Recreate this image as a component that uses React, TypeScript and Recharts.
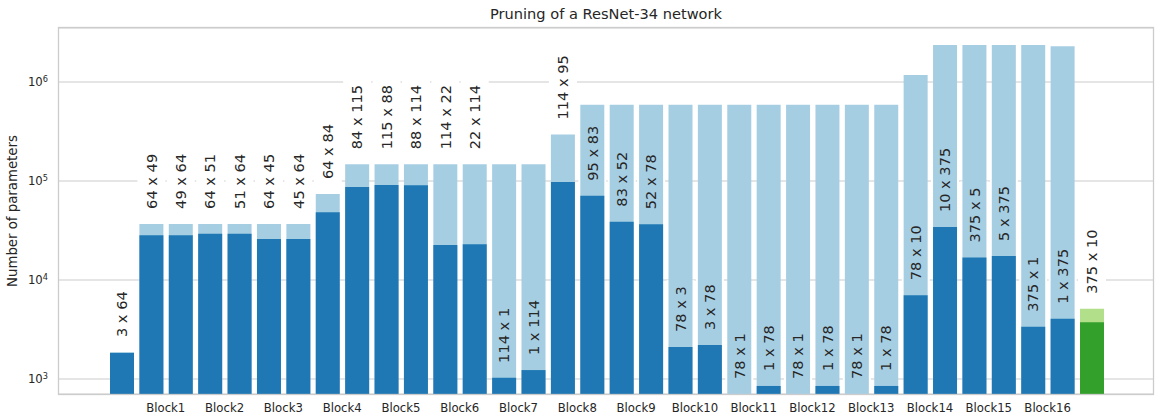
import { BarChart, Bar, XAxis, YAxis, CartesianGrid, Cell } from 'recharts';

// one entry per conv / fc layer, in network order
const layers = [
  'conv1',
  'Block1', 'Block1', 'Block2', 'Block2', 'Block3', 'Block3', 'Block4', 'Block4',
  'Block5', 'Block5', 'Block6', 'Block6', 'Block7', 'Block7', 'Block8', 'Block8',
  'Block9', 'Block9', 'Block10', 'Block10', 'Block11', 'Block11', 'Block12', 'Block12',
  'Block13', 'Block13', 'Block14', 'Block14', 'Block15', 'Block15', 'Block16', 'Block16',
  'fc',
];

// remaining in x out channels after pruning
const shapes = [
  '3 x 64',
  '64 x 49', '49 x 64', '64 x 51', '51 x 64', '64 x 45', '45 x 64', '64 x 84', '84 x 115',
  '115 x 88', '88 x 114', '114 x 22', '22 x 114', '114 x 1', '1 x 114', '114 x 95', '95 x 83',
  '83 x 52', '52 x 78', '78 x 3', '3 x 78', '78 x 1', '1 x 78', '78 x 1', '1 x 78',
  '78 x 1', '1 x 78', '78 x 10', '10 x 375', '375 x 5', '5 x 375', '375 x 1', '1 x 375',
  '375 x 10',
];

// parameters of the original layer
const fullParams = [
  1870,
  36864, 36864, 36864, 36864, 36864, 36864, 73728, 147456,
  147456, 147456, 147456, 147456, 147456, 147456, 294912, 589824,
  589824, 589824, 589824, 589824, 589824, 589824, 589824, 589824,
  589824, 589824, 1179648, 2359296, 2359296, 2359296, 2359296, 2300000,
  5120,
];

// parameters left after pruning
const prunedParams = [
  1830,
  28224, 28224, 29376, 29376, 25920, 25920, 48384, 86940,
  91080, 90288, 22572, 23000, 1026, 1230, 97470, 70965,
  38844, 36504, 2106, 2200, 702, 850, 702, 850,
  702, 850, 7020, 34200, 16875, 17500, 3375, 4050,
  3750,
];

const yTicks = [1000, 10000, 100000, 1000000];

const COLORS = {
  full: '#a6cee3',
  pruned: '#1f78b4',
  fcFull: '#b2df8a',
  fcPruned: '#33a02c',
};

const TEXT = '#262626';
const GRID = '#cccccc';
const FONT = '"DejaVu Sans", sans-serif';
const LABEL_FS = 14.6;

const W = 1155;
const H = 415;
const PLOT_L = 59;
const PLOT_R = 1153;
const PLOT_T = 28;
const PLOT_B = 394;
const PAD_L = 48;
const PAD_R = 46.6;
const BAND = (PLOT_R - PLOT_L - PAD_L - PAD_R) / layers.length;

const data = layers.map((layer, i) => {
  const full = fullParams[i];
  const pruned = prunedParams[i];
  // label sits on the full bar when it is small and not pruned much
  const onFull = full <= 300000 && pruned / full > 0.1;
  return { layer, full, pruned, anchor: onFull ? full : pruned, shape: shapes[i] };
});

const lastIdx = layers.length - 1;

const charW: Record<string, number> = { ' ': 0.318, x: 0.592 };
const textLen = (s: string) =>
  [...s].reduce((a, c) => a + (charW[c] ?? 0.636), 0) * LABEL_FS;

function LabelBox(props: any) {
  const { x, y, width, height, payload } = props;
  const top = Math.min(y, y + height);
  const cx = x + width / 2;
  const start = top - 15;
  const len = textLen(payload.shape);
  return <rect x={cx - 14} y={start - len - 6} width={28} height={len + 11} fill="#ffffff" />;
}

function LabelText(props: any) {
  const { x, y, width, height, payload } = props;
  const top = Math.min(y, y + height);
  const cx = x + width / 2;
  const start = top - 15;
  return (
    <text
      x={cx}
      y={start}
      dy="0.36em"
      transform={`rotate(-90, ${cx}, ${start})`}
      textAnchor="start"
      fontSize={LABEL_FS}
      fontFamily={FONT}
      fill={TEXT}
    >
      {payload.shape}
    </text>
  );
}

function XTick(props: any) {
  const { x, y, payload } = props;
  const idx = payload.index;
  if (idx % 2 === 0 || idx === lastIdx) return null;
  return (
    <text
      x={x + BAND / 2}
      y={y + 9.6}
      textAnchor="middle"
      fontSize={11.7}
      fontFamily={FONT}
      fill={TEXT}
    >
      {payload.value}
    </text>
  );
}

function YTick(props: any) {
  const { x, y, payload } = props;
  const exp = Math.round(Math.log10(payload.value));
  return (
    <text x={x} y={y} dy="0.36em" textAnchor="end" fontSize={11.7} fontFamily={FONT} fill={TEXT}>
      10
      <tspan dy="-0.55em" fontSize={8.2}>
        {exp}
      </tspan>
    </text>
  );
}

export default function App() {
  return (
    <div style={{ position: 'absolute', left: 0, top: 0, width: W, height: H, background: '#fff' }}>
      <BarChart
        width={W}
        height={H}
        data={data}
        margin={{ top: PLOT_T, right: W - PLOT_R, bottom: 0, left: 0 }}
        barSize={24}
        barGap={-24}
      >
        <CartesianGrid vertical={false} stroke={GRID} strokeWidth={1.1} />
        <XAxis
          dataKey="layer"
          height={H - PLOT_B}
          padding={{ left: PAD_L, right: PAD_R }}
          interval={0}
          axisLine={false}
          tickLine={false}
          tickSize={0}
          tickMargin={8}
          tick={<XTick />}
        />
        <YAxis
          scale="log"
          domain={[705, 3510000]}
          allowDataOverflow
          ticks={yTicks}
          width={PLOT_L}
          axisLine={false}
          tickLine={false}
          tickSize={0}
          tickMargin={11}
          tick={<YTick />}
        />
        <Bar dataKey="anchor" fill="none" isAnimationActive={false} shape={<LabelBox />} />
        <Bar dataKey="full" isAnimationActive={false}>
          {data.map((d, i) => (
            <Cell key={`full-${i}`} fill={i === lastIdx ? COLORS.fcFull : COLORS.full} />
          ))}
        </Bar>
        <Bar dataKey="pruned" isAnimationActive={false}>
          {data.map((d, i) => (
            <Cell key={`pruned-${i}`} fill={i === lastIdx ? COLORS.fcPruned : COLORS.pruned} />
          ))}
        </Bar>
        <Bar dataKey="anchor" fill="none" isAnimationActive={false} shape={<LabelText />} />
      </BarChart>

      {/* title, y label and frame */}
      <svg
        width={W}
        height={H}
        style={{ position: 'absolute', left: 0, top: 0, pointerEvents: 'none' }}
      >
        <text
          x={(PLOT_L + PLOT_R) / 2}
          y={18.5}
          textAnchor="middle"
          fontSize={14.6}
          fontFamily={FONT}
          fill={TEXT}
        >
          Pruning of a ResNet-34 network
        </text>
        <text
          x={16.5}
          y={(PLOT_T + PLOT_B) / 2}
          transform={`rotate(-90, 16.5, ${(PLOT_T + PLOT_B) / 2})`}
          textAnchor="middle"
          fontSize={13.3}
          fontFamily={FONT}
          fill={TEXT}
        >
          Number of parameters
        </text>
        <rect
          x={PLOT_L - 0.5}
          y={PLOT_T - 0.5}
          width={PLOT_R - PLOT_L + 1}
          height={PLOT_B - PLOT_T + 1}
          fill="none"
          stroke={GRID}
          strokeWidth={1.3}
        />
      </svg>
    </div>
  );
}
